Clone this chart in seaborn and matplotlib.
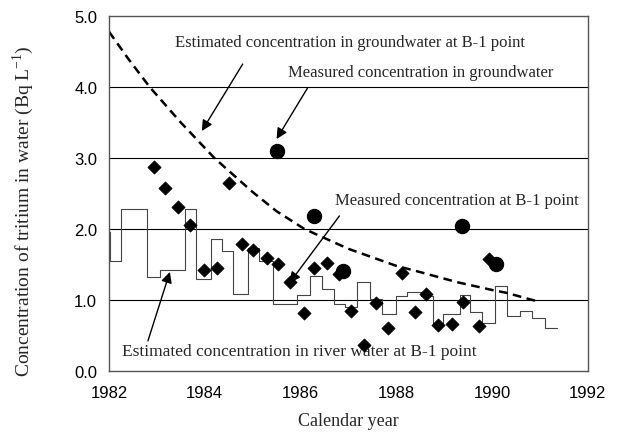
import numpy as np
import matplotlib
matplotlib.use("Agg")
import matplotlib.pyplot as plt
import seaborn as sns
import pandas as pd

# estimated concentration in groundwater at B-1 point (dashed curve)
gw_year = [1982.0, 1982.4, 1982.85, 1983.5, 1984.2, 1985.0, 1985.5, 1986.08,
           1987.0, 1988.0, 1988.4, 1989.27, 1990.0, 1990.3, 1991.0]
gw_conc = [4.78, 4.40, 4.00, 3.50, 3.00, 2.52, 2.25, 2.00,
           1.72, 1.48, 1.41, 1.25, 1.14, 1.10, 0.97]

# measured concentration in groundwater (circles)
gwm_year = [1985.5, 1986.29, 1986.88, 1989.38, 1990.08]
gwm_conc = [3.10, 2.18, 1.41, 2.04, 1.51]

# measured concentration at B-1 point (diamonds)
b1_year = [1982.94, 1983.17, 1983.44, 1983.69, 1983.98, 1984.25, 1984.5, 1984.77,
           1985.0, 1985.29, 1985.52, 1985.77, 1986.08, 1986.29, 1986.56, 1986.81,
           1987.06, 1987.33, 1987.58, 1987.83, 1988.12, 1988.4, 1988.63, 1988.88,
           1989.17, 1989.4, 1989.73, 1989.94]
b1_conc = [2.87, 2.58, 2.31, 2.06, 1.42, 1.45, 2.65, 1.79,
           1.70, 1.59, 1.51, 1.25, 0.82, 1.45, 1.52, 1.37,
           0.85, 0.37, 0.96, 0.61, 1.38, 0.83, 1.08, 0.65,
           0.66, 0.97, 0.63, 1.58]

# estimated concentration in river water at B-1 point (step line)
rv_year = [1982.0, 1982.02, 1982.25, 1982.79, 1983.06, 1983.58, 1983.81, 1984.13,
           1984.35, 1984.58, 1984.90, 1985.13, 1985.42, 1985.92, 1986.19, 1986.44,
           1986.69, 1986.92, 1987.19, 1987.46, 1987.71, 1988.0, 1988.23, 1988.52,
           1988.77, 1988.98, 1989.33, 1989.54, 1989.79, 1990.06, 1990.31, 1990.58,
           1990.83, 1991.10, 1991.35]
rv_conc = [1.95, 1.55, 2.28, 1.32, 1.42, 2.28, 1.30, 1.86,
           1.69, 1.08, 1.73, 1.55, 0.94, 1.07, 1.34, 1.15,
           0.94, 0.90, 1.25, 1.01, 0.80, 1.05, 1.11, 1.05,
           0.68, 0.80, 1.07, 0.83, 0.68, 1.20, 0.77, 0.85,
           0.75, 0.60, 0.60]

sns.set_style("white")
serif = "Liberation Serif"
plt.rcParams['font.family'] = ['Liberation Sans', 'DejaVu Sans']

fig = plt.figure(figsize=(6.34, 4.39), dpi=100)
ax = fig.add_axes([0.172, 0.153, 0.755, 0.808])

for v in [1, 2, 3, 4]:
    ax.axhline(v, color='black', lw=0.8, zorder=0)

sns.lineplot(x=rv_year, y=rv_conc, ax=ax, color='#444444', lw=0.8,
             drawstyle='steps-post', estimator=None, sort=False)
sns.lineplot(x=gw_year, y=gw_conc, ax=ax, color='black', lw=1.8,
             linestyle=(0, (3.5, 2.2)), estimator=None, sort=False)
sns.scatterplot(x=b1_year, y=b1_conc, ax=ax, marker='D', s=45,
                color='black', edgecolor='black', zorder=5)
sns.scatterplot(x=gwm_year, y=gwm_conc, ax=ax, marker='o', s=105,
                color='black', edgecolor='black', zorder=6)

ax.set_xlim(1982, 1992)
ax.set_ylim(0, 5)
ax.set_xticks([1982, 1984, 1986, 1988, 1990, 1992])
ax.set_yticks([0, 1, 2, 3, 4, 5])
ax.set_yticklabels(['0.0', '1.0', '2.0', '3.0', '4.0', '5.0'])
ax.tick_params(axis='both', direction='in', length=3, labelsize=12, colors='black')
ax.tick_params(axis='x', pad=10)
ax.tick_params(axis='y', pad=8.5)
for s in ax.spines.values():
    s.set_color('#555555')
    s.set_linewidth(1.0)

ax.set_xlabel('Calendar year', family=serif, fontsize=13, labelpad=9)
ax.set_ylabel('Concentration of tritium in water (Bq L$^{\\mathregular{-1}}$)',
              family=serif, fontsize=14)
ax.yaxis.set_label_coords(-0.153, 0.452)

arrow = dict(arrowstyle='-|>', color='black', lw=1.0, mutation_scale=16,
             shrinkA=0, shrinkB=0)


def px(x, y):
    # pixel position in the reference -> data coordinates
    return (1982 + (x - 109) / 48.0, (372 - y) / 71.0)


ax.text(*px(351, 43), 'Estimated concentration in groundwater at B-1 point',
        ha='center', va='center', family=serif, fontsize=12)
ax.annotate('', xy=px(202, 132), xytext=px(243, 65), arrowprops=arrow)
ax.text(*px(422, 73), 'Measured concentration in groundwater',
        ha='center', va='center', family=serif, fontsize=12)
ax.annotate('', xy=px(277, 140), xytext=px(308, 89), arrowprops=arrow)
ax.text(*px(458, 201), 'Measured concentration at B-1 point',
        ha='center', va='center', family=serif, fontsize=12)
ax.annotate('', xy=px(290, 284), xytext=px(340, 217), arrowprops=arrow)
ax.text(*px(300, 352), 'Estimated concentration in river water at B-1 point',
        ha='center', va='center', family=serif, fontsize=12.5)
ax.annotate('', xy=px(170, 273), xytext=px(148, 342), arrowprops=arrow)

fig.savefig('out.png', dpi=100)
